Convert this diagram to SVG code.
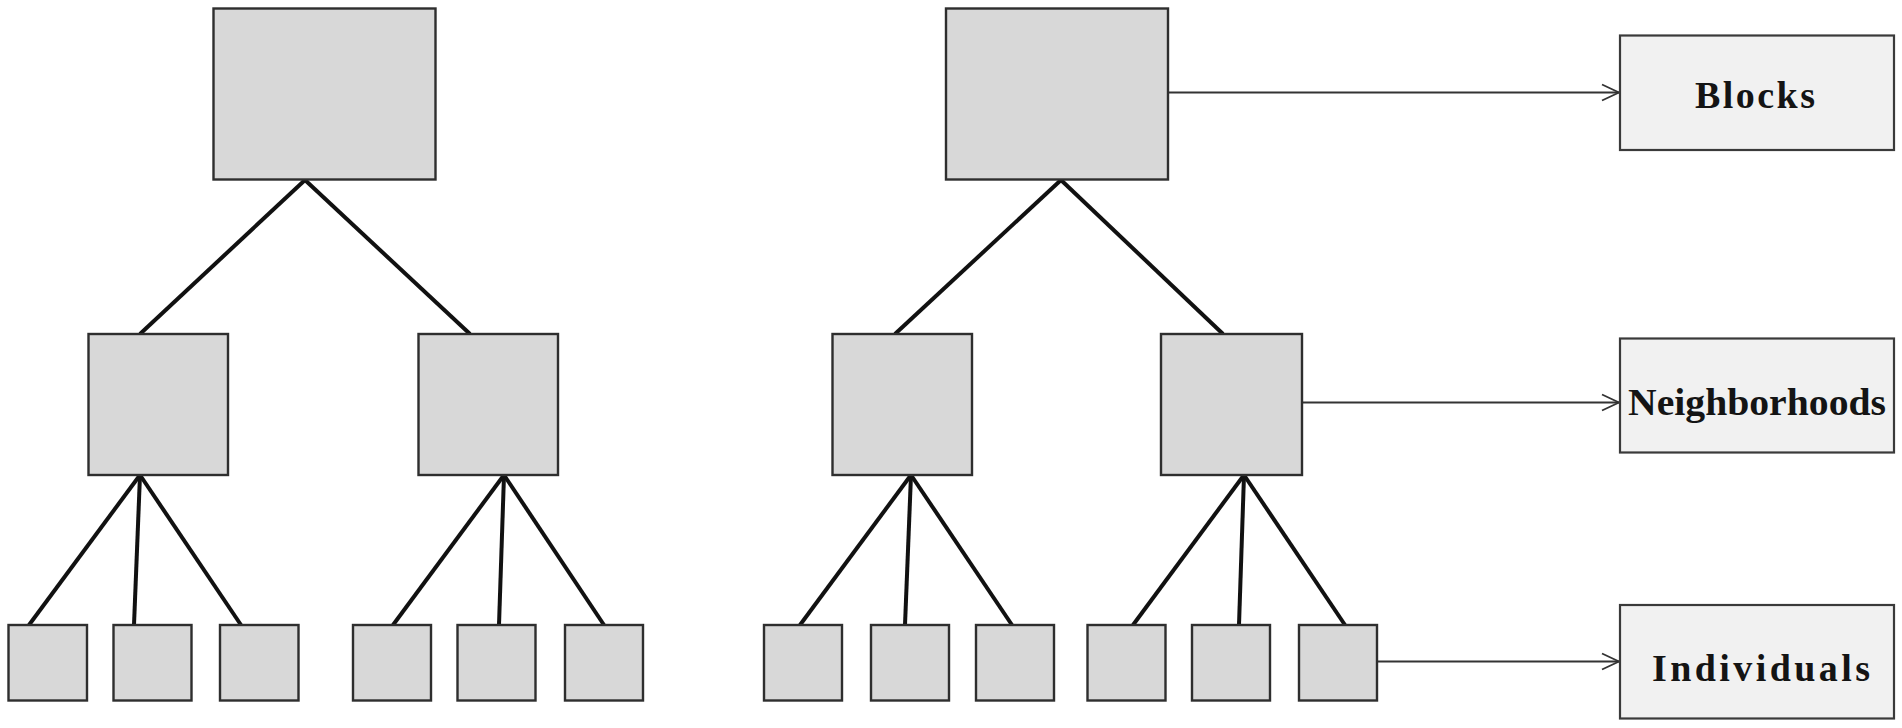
<svg xmlns="http://www.w3.org/2000/svg" width="1902" height="728" viewBox="0 0 1902 728">
  <defs>
    <style>
      .box { fill: #d8d8d8; stroke: #2e2e2e; stroke-width: 2.4; }
      .lbl { fill: #f1f1f1; stroke: #3a3a3a; stroke-width: 2.2; }
      .edge { stroke: #111111; stroke-width: 4; fill: none; stroke-linecap: butt; }
      .arrow { stroke: #333333; stroke-width: 1.8; fill: none; }
      .txt { font-family: "Liberation Serif", "DejaVu Serif", serif; font-weight: bold; font-size: 38px; fill: #141414; }
    </style>
    <marker id="open" viewBox="0 0 20 20" refX="19" refY="10" markerUnits="userSpaceOnUse" markerWidth="20" markerHeight="20" orient="auto">
      <path d="M2,2 L19,10 L2,18" fill="none" stroke="#333333" stroke-width="1.8"/>
    </marker>
  </defs>
  <rect width="1902" height="728" fill="#ffffff"/>

  <g id="connectors">
    <!-- left tree -->
    <line class="edge" x1="305" y1="180" x2="140" y2="334"/>
    <line class="edge" x1="305" y1="180" x2="470" y2="334"/>
    <line class="edge" x1="140" y1="475" x2="29" y2="625"/>
    <line class="edge" x1="140" y1="475" x2="134" y2="625"/>
    <line class="edge" x1="140" y1="475" x2="241" y2="625"/>
    <line class="edge" x1="504" y1="475" x2="393" y2="625"/>
    <line class="edge" x1="504" y1="475" x2="499" y2="625"/>
    <line class="edge" x1="504" y1="475" x2="604" y2="625"/>
    <!-- right tree -->
    <line class="edge" x1="1061" y1="180" x2="895" y2="334"/>
    <line class="edge" x1="1061" y1="180" x2="1223" y2="334"/>
    <line class="edge" x1="911" y1="475" x2="800" y2="625"/>
    <line class="edge" x1="911" y1="475" x2="905" y2="625"/>
    <line class="edge" x1="911" y1="475" x2="1012" y2="625"/>
    <line class="edge" x1="1244" y1="475" x2="1133" y2="625"/>
    <line class="edge" x1="1244" y1="475" x2="1239" y2="625"/>
    <line class="edge" x1="1244" y1="475" x2="1345" y2="625"/>
    <!-- arrows to labels -->
    <line class="arrow" x1="1168" y1="92.5" x2="1619" y2="92.5" marker-end="url(#open)"/>
    <line class="arrow" x1="1302" y1="402.5" x2="1619" y2="402.5" marker-end="url(#open)"/>
    <line class="arrow" x1="1377" y1="661.5" x2="1619" y2="661.5" marker-end="url(#open)"/>
  </g>

  <!-- left tree nodes -->
  <g id="L-root"><rect class="box" x="213.5" y="8.5" width="222" height="171"/></g>
  <g id="L-mid1"><rect class="box" x="88.5" y="334" width="139.5" height="141"/></g>
  <g id="L-mid2"><rect class="box" x="418.5" y="334" width="139.5" height="141"/></g>
  <g id="L-leaf1"><rect class="box" x="8.5" y="625" width="78.5" height="75.5"/></g>
  <g id="L-leaf2"><rect class="box" x="113.5" y="625" width="78" height="75.5"/></g>
  <g id="L-leaf3"><rect class="box" x="220" y="625" width="78.5" height="75.5"/></g>
  <g id="L-leaf4"><rect class="box" x="353" y="625" width="78" height="75.5"/></g>
  <g id="L-leaf5"><rect class="box" x="457.5" y="625" width="78" height="75.5"/></g>
  <g id="L-leaf6"><rect class="box" x="565" y="625" width="78" height="75.5"/></g>

  <!-- right tree nodes -->
  <g id="R-root"><rect class="box" x="946" y="8.5" width="222" height="171"/></g>
  <g id="R-mid1"><rect class="box" x="832.5" y="334" width="139.5" height="141"/></g>
  <g id="R-mid2"><rect class="box" x="1161" y="334" width="141" height="141"/></g>
  <g id="R-leaf1"><rect class="box" x="764" y="625" width="78" height="75.5"/></g>
  <g id="R-leaf2"><rect class="box" x="871" y="625" width="78" height="75.5"/></g>
  <g id="R-leaf3"><rect class="box" x="976" y="625" width="78" height="75.5"/></g>
  <g id="R-leaf4"><rect class="box" x="1087.5" y="625" width="78" height="75.5"/></g>
  <g id="R-leaf5"><rect class="box" x="1192" y="625" width="78" height="75.5"/></g>
  <g id="R-leaf6"><rect class="box" x="1299" y="625" width="78" height="75.5"/></g>

  <!-- label nodes -->
  <g id="blocks">
    <rect class="lbl" x="1620" y="35.5" width="274" height="114.5"/>
    <text class="txt" x="1695" y="108" textLength="120" lengthAdjust="spacing">Blocks</text>
  </g>
  <g id="neighborhoods">
    <rect class="lbl" x="1620" y="338.5" width="274" height="114"/>
    <text class="txt" x="1628" y="415" textLength="258" lengthAdjust="spacingAndGlyphs">Neighborhoods</text>
  </g>
  <g id="individuals">
    <rect class="lbl" x="1620" y="605" width="274" height="113.5"/>
    <text class="txt" x="1652" y="681" textLength="218" lengthAdjust="spacing">Individuals</text>
  </g>
</svg>
